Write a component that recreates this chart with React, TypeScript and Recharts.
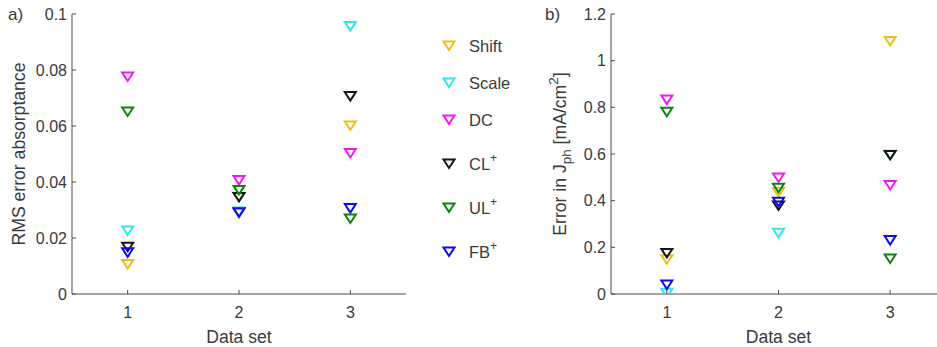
import { ScatterChart, Scatter, XAxis, YAxis, Label } from 'recharts'

const FONT = '"Liberation Sans", Arial, Helvetica, sans-serif'
const TEXT = '#3a3a3a'
const AXIS = '#4a4a4a'

const categories = [1, 2, 3]
const xTicks = [1, 2, 3]
const yTicksA = [0, 0.02, 0.04, 0.06, 0.08, 0.1]
const yTicksB = [0, 0.2, 0.4, 0.6, 0.8, 1, 1.2]

const seriesNames = ['Shift', 'Scale', 'DC', 'CL', 'UL', 'FB']
const seriesSup = ['', '', '', '+', '+', '+']
const seriesColors = ['#EBBD1A', '#2EE8E8', '#F516F5', '#151515', '#0A850A', '#0A0AF5']

// a) RMS error absorptance
const absShift = [0.0105, 0.0287, 0.06]
const absScale = [0.0225, 0.0293, 0.0955]
const absDC = [0.0775, 0.0405, 0.0502]
const absCL = [0.0167, 0.0345, 0.0705]
const absUL = [0.065, 0.037, 0.0268]
const absFB = [0.0147, 0.029, 0.0305]

// b) error in Jph
const jShift = [0.147, 0.435, 1.082]
const jScale = [0.003, 0.26, 0.595]
const jDC = [0.831, 0.497, 0.465]
const jCL = [0.174, 0.377, 0.594]
const jUL = [0.779, 0.453, 0.15]
const jFB = [0.0386, 0.393, 0.229]

const absorptance = [absShift, absScale, absDC, absCL, absUL, absFB]
const jph = [jShift, jScale, jDC, jCL, jUL, jFB]

function Tri({ cx, cy, color }: { cx?: number; cy?: number; color: string }) {
  if (cx == null || cy == null) return null
  return (
    <path
      d={`M${cx - 5.5},${cy - 4.5}L${cx + 5.5},${cy - 4.5}L${cx},${cy + 4}Z`}
      fill="none"
      stroke={color}
      strokeWidth={2}
    />
  )
}

const tickStyle = { fill: TEXT, fontSize: 16, fontFamily: FONT }

function Panel({
  values,
  yTicks,
  yMax,
  width,
  margin,
  yLabel,
}: {
  values: number[][]
  yTicks: number[]
  yMax: number
  width: number
  margin: { top: number; right: number; bottom: number; left: number }
  yLabel: (vb: any) => any
}) {
  return (
    <ScatterChart width={width} height={347} margin={margin}>
      <XAxis
        type="number"
        dataKey="x"
        domain={[0.5, 3.5]}
        ticks={xTicks}
        allowDataOverflow
        height={40}
        stroke={AXIS}
        tickSize={-4}
        tickMargin={17}
        tick={tickStyle}
      >
        <Label
          content={({ viewBox }: any) => (
            <text
              x={viewBox.x + viewBox.width / 2}
              y={viewBox.y + 49}
              textAnchor="middle"
              fontSize={17.6}
              fontFamily={FONT}
              fill={TEXT}
            >
              Data set
            </text>
          )}
        />
      </XAxis>
      <XAxis
        xAxisId="top"
        orientation="top"
        type="number"
        domain={[0.5, 3.5]}
        ticks={xTicks}
        height={0}
        stroke={AXIS}
        tickSize={-4}
        tick={false}
      />
      <YAxis
        type="number"
        dataKey="y"
        domain={[0, yMax]}
        ticks={yTicks}
        allowDataOverflow
        width={60}
        stroke={AXIS}
        tickSize={-4}
        tickMargin={9}
        tick={tickStyle}
      >
        <Label content={({ viewBox }: any) => yLabel(viewBox)} />
      </YAxis>
      <YAxis
        yAxisId="right"
        orientation="right"
        type="number"
        domain={[0, yMax]}
        ticks={yTicks}
        width={0}
        stroke={AXIS}
        tickSize={-4}
        tick={false}
      />
      {values.map((vals, s) => (
        <Scatter
          key={seriesNames[s]}
          name={seriesNames[s]}
          data={categories.map((c, i) => ({ x: c, y: vals[i] }))}
          isAnimationActive={false}
          shape={(p: any) => <Tri cx={p.cx} cy={p.cy} color={seriesColors[s]} />}
        />
      ))}
    </ScatterChart>
  )
}

function LegendBox() {
  let y = 46
  const rows = seriesNames.map((name, i) => {
    if (i > 0) y += seriesSup[i] ? 44 : 37
    return { name, sup: seriesSup[i], color: seriesColors[i], y }
  })
  return (
    <svg width={100} height={300}>
      {rows.map((r) => (
        <g key={r.name}>
          <Tri cx={19} cy={r.y} color={r.color} />
          <text x={39} y={r.y + 6} fontSize={16.5} fontFamily={FONT} fill={TEXT}>
            {r.name}
            {r.sup && (
              <tspan dy={-8} fontSize={12}>
                {r.sup}
              </tspan>
            )}
          </text>
        </g>
      ))}
    </svg>
  )
}

export default function App() {
  return (
    <div
      style={{
        position: 'fixed',
        left: 0,
        top: 0,
        width: 937,
        height: 347,
        overflow: 'hidden',
        background: '#fff',
        fontFamily: FONT,
      }}
    >
      <div style={{ position: 'absolute', left: 0, top: 0 }}>
        <Panel
          values={absorptance}
          yTicks={yTicksA}
          yMax={0.1}
          width={420}
          margin={{ top: 14, right: 14, bottom: 13, left: 12 }}
          yLabel={(vb) => (
            <g>
              <text x={vb.x - 4} y={vb.y + 6} fontSize={17} fontFamily={FONT} fill={TEXT}>
                a)
              </text>
              <text
                x={vb.x + 13}
                y={vb.y + vb.height / 2}
                transform={`rotate(-90 ${vb.x + 13} ${vb.y + vb.height / 2})`}
                textAnchor="middle"
                fontSize={17.6}
                fontFamily={FONT}
                fill={TEXT}
              >
                RMS error absorptance
              </text>
            </g>
          )}
        />
      </div>
      <div style={{ position: 'absolute', left: 430, top: 0 }}>
        <LegendBox />
      </div>
      <div style={{ position: 'absolute', left: 520, top: 0 }}>
        <Panel
          values={jph}
          yTicks={yTicksB}
          yMax={1.2}
          width={430}
          margin={{ top: 14, right: 4, bottom: 13, left: 31 }}
          yLabel={(vb) => (
            <g>
              <text x={vb.x - 6} y={vb.y + 6} fontSize={17} fontFamily={FONT} fill={TEXT}>
                b)
              </text>
              <text
                x={vb.x + 15}
                y={vb.y + vb.height / 2}
                transform={`rotate(-90 ${vb.x + 15} ${vb.y + vb.height / 2})`}
                textAnchor="middle"
                fontSize={17.6}
                fontFamily={FONT}
                fill={TEXT}
              >
                Error in J
                <tspan fontSize={13.5} dy={5}>
                  ph
                </tspan>
                <tspan dy={-5}> [mA/cm</tspan>
                <tspan fontSize={13.5} dy={-8}>
                  2
                </tspan>
                <tspan dy={8}>]</tspan>
              </text>
            </g>
          )}
        />
      </div>
    </div>
  )
}
